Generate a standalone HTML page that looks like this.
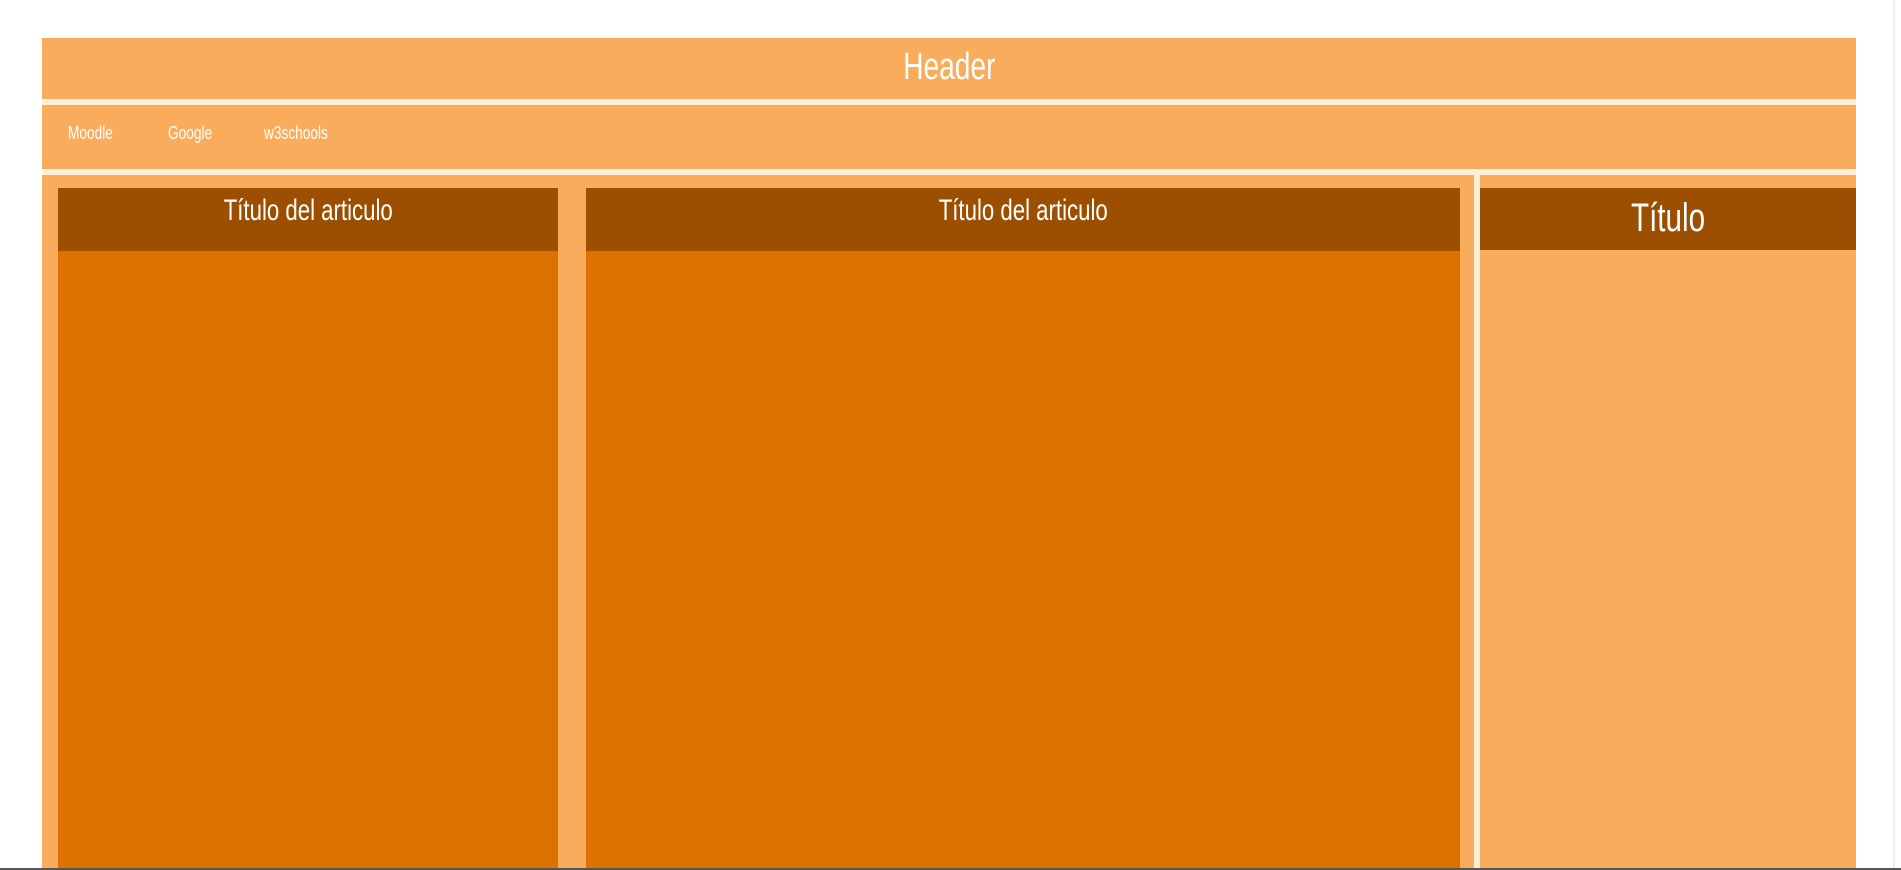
<!DOCTYPE html>
<html><head><meta charset="utf-8"><style>
html,body{margin:0;padding:0;width:1901px;height:870px;overflow:hidden;background:#fff;font-family:"Liberation Sans Narrow","Liberation Sans",sans-serif;color:#fff}
.a{position:absolute}
.lo{background:#f9ac5b}
.cr{background:#fdefd6}
.dk{background:#9c4f00}
.md{background:#db7200}
.t{position:absolute;left:0;right:0;text-align:center;white-space:nowrap}
.n{display:inline-block;transform:scaleX(.74);transform-origin:center}
</style></head><body>
<div class="a lo" style="left:42px;top:38px;width:1814px;height:61px"><div class="t" style="top:8px;font-size:38px"><span class="n">Header</span></div></div>
<div class="a cr" style="left:42px;top:99px;width:1814px;height:6px"></div>
<div class="a lo" style="left:42px;top:105px;width:1814px;height:64px">
<span class="a" style="left:26px;top:18px;font-size:18px;transform:scaleX(.76);transform-origin:left">Moodle</span>
<span class="a" style="left:126px;top:18px;font-size:18px;transform:scaleX(.76);transform-origin:left">Google</span>
<span class="a" style="left:222px;top:18px;font-size:18px;transform:scaleX(.76);transform-origin:left">w3schools</span>
</div>
<div class="a cr" style="left:42px;top:169px;width:1814px;height:6px"></div>
<div class="a lo" style="left:42px;top:175px;width:1432px;height:693px"></div>
<div class="a cr" style="left:1474px;top:175px;width:6px;height:693px"></div>
<div class="a lo" style="left:1480px;top:175px;width:376px;height:693px"></div>
<div class="a md" style="left:58px;top:251px;width:500px;height:617px"></div>
<div class="a dk" style="left:58px;top:188px;width:500px;height:63px"><div class="t" style="top:6px;font-size:30px"><span class="n">Título del articulo</span></div></div>
<div class="a md" style="left:586px;top:251px;width:874px;height:617px"></div>
<div class="a dk" style="left:586px;top:188px;width:874px;height:63px"><div class="t" style="top:6px;font-size:30px"><span class="n">Título del articulo</span></div></div>
<div class="a dk" style="left:1480px;top:188px;width:376px;height:62px"><div class="t" style="top:8px;font-size:40px"><span class="n">Título</span></div></div>
<div class="a" style="left:0;top:868px;width:1901px;height:2px;background:#555"></div>
<div class="a" style="left:1893px;top:0;width:2px;height:868px;background:#eee"></div>
</body></html>
